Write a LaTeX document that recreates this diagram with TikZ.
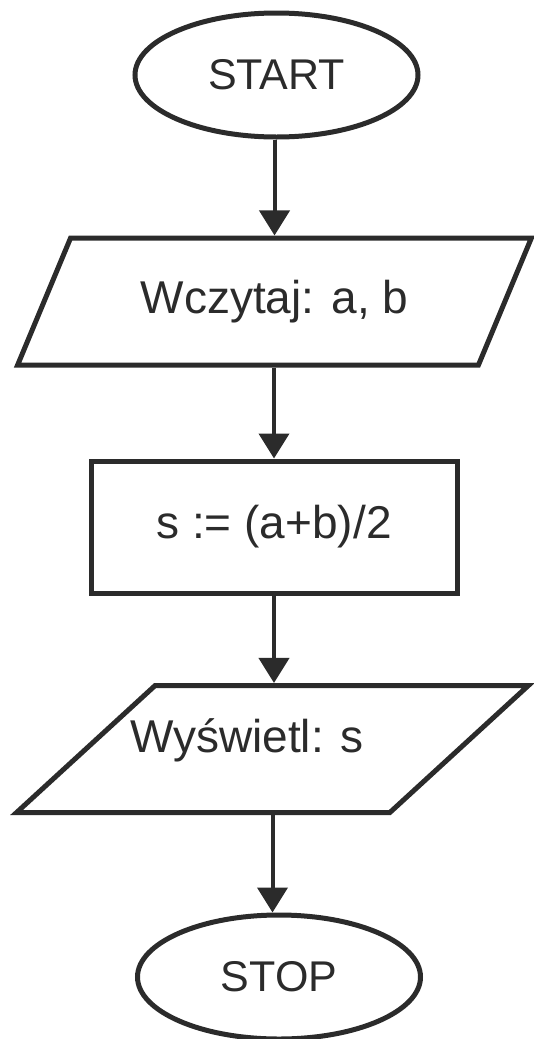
\documentclass[tikz,border=0pt]{standalone}
\usepackage{fontspec}
\setmainfont{Liberation Sans}
\usetikzlibrary{shapes.geometric,arrows.meta}
\definecolor{ink}{HTML}{2B2B2B}
\begin{document}
\begin{tikzpicture}[x=1pt,y=-1pt,
  lbl/.style={text=ink, font=\fontsize{46}{50}\selectfont},
  shapeline/.style={lbl, draw=ink, line width=5pt},
  term/.style={shapeline, ellipse, minimum width=283pt, minimum height=124pt, inner sep=0pt,
    font=\fontsize{43}{48}\selectfont},
  io/.style={shapeline, trapezium, trapezium left angle=51, trapezium right angle=129,
    trapezium stretches=true, minimum width=515pt, minimum height=127pt, inner sep=0pt},
  proc/.style={shapeline, rectangle, minimum width=366pt, minimum height=132pt, inner sep=0pt},
  txt/.style={lbl, inner sep=0pt},
  arr/.style={draw=ink, line width=4pt, -{Triangle[width=30pt,length=25pt]}}
]
\useasboundingbox (0,0) rectangle (533,1039);
\node[term] (start) at (276.5,75) {START};
\node[io] (io1) at (274.5,301.5) {Wczytaj: a, b};
\node[proc] (proc) at (274,527) {s := (a+b)/2};
\node[io] (io2) at (272.5,749) {\phantom{W}};
\node[txt] (t2) at (247,740) {Wyświetl: s};
\node[term] (stop) at (279,977) {STOP};
\draw[arr] (start.south -| io1.north) -- (io1.north);
\draw[arr] (io1.south -| proc.north) -- (proc.north);
\draw[arr] (proc.south) -- (proc.south |- io2.north);
\draw[arr] (io2.south) -- (io2.south |- stop.north);
\end{tikzpicture}
\end{document}
